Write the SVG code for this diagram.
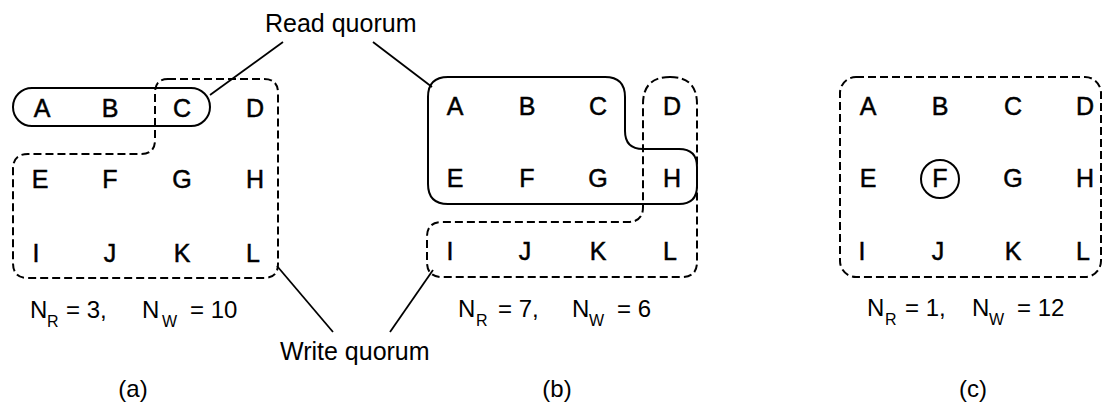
<svg xmlns="http://www.w3.org/2000/svg" width="1104" height="406" viewBox="0 0 1104 406">
<style>
text{font-family:"Liberation Sans",Arial,Helvetica,sans-serif;fill:#000}
.n{font-size:25px;text-anchor:middle;stroke:#000;stroke-width:0.5}
.lbl{font-size:25px}
.eq{font-size:24px}
.sub{font-size:16px}
.cap{font-size:24px;text-anchor:middle}
.solid{fill:none;stroke:#000;stroke-width:2}
.dash{fill:none;stroke:#000;stroke-width:2;stroke-dasharray:8 4}
.lead{stroke:#000;stroke-width:1.8;fill:none}
</style>
<rect width="1104" height="406" fill="#fff"/>

<g id="panel-a">
  <rect class="solid" x="13" y="88" width="197" height="38" rx="19"/>
  <path class="dash" d="M 168,79 H 264 Q 278,79 278,93 V 264 Q 278,278 264,278 H 28 Q 13,278 13,263 V 169 Q 13,154 28,154 H 141 Q 155,154 155,140 V 93 Q 155,79 168,79 Z"/>
  <text class="n" x="42" y="117">A</text>
  <text class="n" x="110" y="117">B</text>
  <text class="n" x="182" y="117">C</text>
  <text class="n" x="255" y="117">D</text>
  <text class="n" x="40" y="188">E</text>
  <text class="n" x="110" y="188">F</text>
  <text class="n" x="182" y="188">G</text>
  <text class="n" x="255" y="188">H</text>
  <text class="n" x="36" y="262">I</text>
  <text class="n" x="110" y="262">J</text>
  <text class="n" x="182" y="262">K</text>
  <text class="n" x="253" y="262">L</text>
  <text class="eq" y="318"><tspan x="30">N</tspan><tspan class="sub" x="47" y="327">R</tspan><tspan x="66" y="318">= 3,</tspan><tspan x="142">N</tspan><tspan class="sub" x="162" y="327">W</tspan><tspan x="190" y="318">= 10</tspan></text>
  <text class="cap" x="133" y="397">(a)</text>
</g>

<g id="panel-b">
  <path class="solid" d="M 448,77 H 605 Q 625,77 625,97 V 131 Q 625,149 643,149 H 679 Q 697,149 697,167 V 186 Q 697,204 679,204 H 448 Q 428,204 428,184 V 97 Q 428,77 448,77 Z"/>
  <path class="dash" d="M 670,77 Q 697,77 697,104 V 262 Q 697,277 682,277 H 442 Q 427,277 427,262 V 237 Q 427,222 442,222 H 628 Q 643,222 643,207 V 104 Q 643,77 670,77 Z"/>
  <text class="n" x="455" y="115">A</text>
  <text class="n" x="527" y="115">B</text>
  <text class="n" x="598" y="115">C</text>
  <text class="n" x="672" y="115">D</text>
  <text class="n" x="455" y="187">E</text>
  <text class="n" x="527" y="187">F</text>
  <text class="n" x="598" y="187">G</text>
  <text class="n" x="672" y="187">H</text>
  <text class="n" x="450" y="260">I</text>
  <text class="n" x="525" y="260">J</text>
  <text class="n" x="598" y="260">K</text>
  <text class="n" x="670" y="260">L</text>
  <text class="eq" y="317"><tspan x="458">N</tspan><tspan class="sub" x="476" y="326">R</tspan><tspan x="498" y="317">= 7,</tspan><tspan x="572">N</tspan><tspan class="sub" x="589" y="326">W</tspan><tspan x="617" y="317">= 6</tspan></text>
  <text class="cap" x="557" y="397">(b)</text>
</g>

<g id="panel-c">
  <rect class="dash" x="840" y="77" width="261" height="200" rx="16"/>
  <circle class="solid" cx="940" cy="179" r="19"/>
  <text class="n" x="868" y="115">A</text>
  <text class="n" x="940" y="115">B</text>
  <text class="n" x="1013" y="115">C</text>
  <text class="n" x="1085" y="115">D</text>
  <text class="n" x="868" y="187">E</text>
  <text class="n" x="940" y="187">F</text>
  <text class="n" x="1013" y="187">G</text>
  <text class="n" x="1085" y="187">H</text>
  <text class="n" x="862" y="260">I</text>
  <text class="n" x="938" y="260">J</text>
  <text class="n" x="1013" y="260">K</text>
  <text class="n" x="1083" y="260">L</text>
  <text class="eq" y="316"><tspan x="867">N</tspan><tspan class="sub" x="885" y="325">R</tspan><tspan x="905" y="316">= 1,</tspan><tspan x="972">N</tspan><tspan class="sub" x="989" y="325">W</tspan><tspan x="1017" y="316">= 12</tspan></text>
  <text class="cap" x="973" y="397">(c)</text>
</g>

<g id="label-read">
  <text class="lbl" x="265" y="32">Read quorum</text>
</g>
<g id="label-write">
  <text class="lbl" x="280" y="360">Write quorum</text>
</g>

<g id="connectors">
  <line class="lead" x1="283" y1="42" x2="210" y2="95"/>
  <line class="lead" x1="373" y1="42" x2="432" y2="87"/>
  <line class="lead" x1="277" y1="266" x2="333" y2="332"/>
  <line class="lead" x1="433" y1="270" x2="390" y2="332"/>
</g>
</svg>
